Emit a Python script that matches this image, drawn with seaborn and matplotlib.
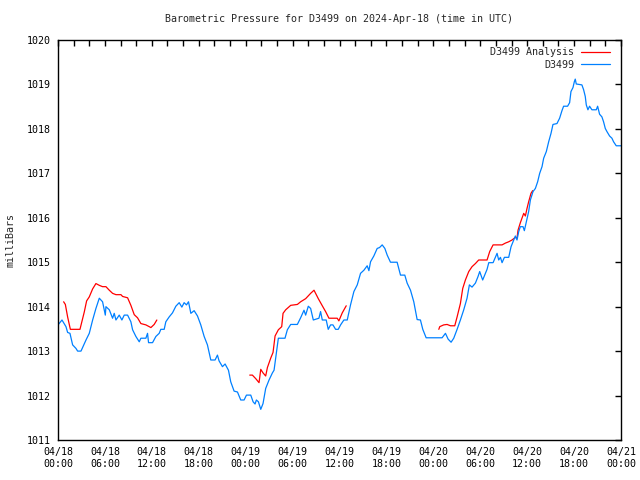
import numpy as np
import pandas as pd
import matplotlib
matplotlib.use("Agg")
import matplotlib.pyplot as plt
import matplotlib.dates as mdates
from matplotlib.lines import Line2D
import seaborn as sns

# blue observed series: hours since 2024-04-18 00:00 UTC, pressure (mb)
obs_hours = [
    0.0, 0.51, 1.02, 1.23, 1.53, 1.87, 2.30, 2.51, 2.94, 3.58, 4.00, 4.43, 4.85,
    5.28, 5.70, 6.05, 6.13, 6.56, 6.98, 7.19, 7.41, 7.83, 8.17, 8.47, 8.90, 9.32,
    9.54, 9.96, 10.39, 10.60, 11.24, 11.45, 11.58, 12.09, 12.52, 12.94, 13.15,
    13.58, 13.79, 14.22, 14.64, 15.07, 15.50, 15.84, 16.13, 16.43, 16.69, 16.99,
    17.41, 17.84, 18.26, 18.69, 19.11, 19.54, 20.09, 20.39, 20.60, 21.03, 21.37,
    21.80, 22.09, 22.52, 22.95, 23.37, 23.80, 24.10, 24.65, 24.95, 25.20, 25.37,
    25.63, 25.93, 26.22, 26.56, 26.99, 27.42, 27.63, 27.84, 28.18, 28.48, 29.03,
    29.33, 29.76, 30.61, 31.03, 31.46, 31.67, 32.01, 32.31, 32.65, 33.37, 33.58,
    33.80, 34.30, 34.56, 34.86, 35.16, 35.50, 35.84, 36.14, 36.56, 36.99, 37.41,
    37.84, 38.27, 38.69, 39.12, 39.54, 39.76, 39.97, 40.39, 40.82, 41.12, 41.46,
    41.80, 42.10, 42.52, 43.37, 43.80, 44.35, 44.65, 45.08, 45.50, 45.93, 46.35,
    46.65, 47.08, 49.12, 49.55, 49.89, 50.27, 50.61, 51.04, 51.46, 51.89, 52.31,
    52.61, 52.95, 53.38, 53.72, 53.93, 54.31, 54.66, 54.87, 55.09, 55.64, 55.94,
    56.15, 56.36, 56.58, 56.79, 57.09, 57.64, 57.94, 58.19, 58.49, 58.70, 58.92,
    59.13, 59.47, 59.64, 59.90, 60.19, 60.41, 60.75, 61.05, 61.34, 61.60, 61.90,
    62.11, 62.45, 62.75, 63.05, 63.30, 63.81, 64.15, 64.45, 64.66, 65.17, 65.43,
    65.60, 65.86, 66.03, 66.15, 66.28, 67.00, 67.22, 67.43, 67.56, 67.77, 67.98,
    68.28, 68.84, 69.01, 69.26, 69.56, 69.77, 69.99, 70.20, 70.54, 70.84, 71.05,
    71.39, 72.0,
]
obs_mb = [
    1013.59, 1013.70, 1013.55, 1013.42, 1013.40, 1013.14, 1013.06, 1013.00,
    1013.00, 1013.25, 1013.40, 1013.70, 1013.96, 1014.19, 1014.11, 1013.81,
    1014.00, 1013.93, 1013.74, 1013.85, 1013.70, 1013.81, 1013.70, 1013.81,
    1013.81, 1013.66, 1013.48, 1013.33, 1013.21, 1013.29, 1013.29, 1013.40,
    1013.19, 1013.19, 1013.33, 1013.40, 1013.49, 1013.49, 1013.66, 1013.77,
    1013.86, 1014.01, 1014.09, 1013.99, 1014.09, 1014.04, 1014.11, 1013.85,
    1013.91, 1013.79, 1013.59, 1013.33, 1013.14, 1012.80, 1012.80, 1012.91,
    1012.78, 1012.65, 1012.71, 1012.57, 1012.31, 1012.10, 1012.08, 1011.90,
    1011.90, 1012.01, 1012.01, 1011.86, 1011.81, 1011.90, 1011.86, 1011.69,
    1011.82, 1012.16, 1012.35, 1012.51, 1012.57, 1012.84, 1013.29, 1013.29,
    1013.29, 1013.48, 1013.60, 1013.60, 1013.75, 1013.92, 1013.81, 1014.01,
    1013.96, 1013.70, 1013.74, 1013.89, 1013.70, 1013.70, 1013.49, 1013.59,
    1013.59, 1013.49, 1013.49, 1013.59, 1013.70, 1013.70, 1014.04, 1014.34,
    1014.49, 1014.75, 1014.82, 1014.92, 1014.81, 1015.01, 1015.14, 1015.31,
    1015.33, 1015.39, 1015.31, 1015.16, 1015.00, 1015.00, 1014.71, 1014.71,
    1014.53, 1014.37, 1014.11, 1013.71, 1013.70, 1013.49, 1013.30, 1013.30,
    1013.40, 1013.27, 1013.20, 1013.29, 1013.49, 1013.70, 1013.93, 1014.19,
    1014.49, 1014.44, 1014.53, 1014.68, 1014.79, 1014.60, 1014.75, 1014.84,
    1014.99, 1014.99, 1015.11, 1015.20, 1015.05, 1015.11, 1014.99, 1015.11,
    1015.11, 1015.35, 1015.46, 1015.59, 1015.50, 1015.69, 1015.80, 1015.80,
    1015.71, 1015.91, 1016.14, 1016.40, 1016.59, 1016.66, 1016.81, 1017.00,
    1017.15, 1017.34, 1017.49, 1017.71, 1017.90, 1018.10, 1018.12, 1018.24,
    1018.41, 1018.51, 1018.51, 1018.59, 1018.84, 1018.93, 1019.06, 1019.12,
    1019.01, 1018.99, 1018.88, 1018.73, 1018.54, 1018.43, 1018.51, 1018.43,
    1018.43, 1018.51, 1018.33, 1018.27, 1018.16, 1018.01, 1017.94, 1017.84,
    1017.79, 1017.71, 1017.62, 1017.62,
]

# red analysis series, three separate runs
ana_seg = [1] * 27 + [2] * 29 + [3] * 31
ana_hours = [
    0.72, 0.94, 1.23, 1.58, 2.81, 3.36, 3.66, 4.00, 4.43, 4.85, 5.28, 5.70, 6.13,
    6.56, 6.98, 7.41, 8.05, 8.26, 8.90, 9.32, 9.75, 10.17, 10.60, 11.24, 11.88,
    12.30, 12.64,
    24.52, 24.86, 25.29, 25.71, 25.93, 26.22, 26.56, 26.78, 27.20, 27.50, 27.76,
    28.18, 28.61, 28.78, 29.12, 29.76, 30.61, 31.03, 31.67, 32.31, 32.74, 33.29,
    33.80, 34.22, 34.65, 35.71, 35.92, 36.35, 36.86,
    48.70, 48.82, 49.33, 49.76, 50.19, 50.74, 51.04, 51.46, 51.76, 52.10, 52.53,
    52.95, 53.38, 53.80, 54.87, 55.21, 55.64, 56.79, 57.21, 57.64, 58.06, 58.49,
    58.70, 58.83, 59.13, 59.56, 59.77, 59.98, 60.19, 60.49, 60.70,
]
ana_mb = [
    1014.11, 1014.05, 1013.77, 1013.49, 1013.49, 1013.88, 1014.13, 1014.22,
    1014.40, 1014.52, 1014.48, 1014.45, 1014.45, 1014.37, 1014.30, 1014.27,
    1014.27, 1014.23, 1014.20, 1014.03, 1013.82, 1013.75, 1013.62, 1013.59,
    1013.53, 1013.60, 1013.70,
    1012.46, 1012.46, 1012.38, 1012.29, 1012.59, 1012.51, 1012.44, 1012.63,
    1012.84, 1012.97, 1013.34, 1013.48, 1013.55, 1013.85, 1013.93, 1014.03,
    1014.05, 1014.11, 1014.18, 1014.30, 1014.37, 1014.18, 1014.02, 1013.89,
    1013.74, 1013.74, 1013.68, 1013.86, 1014.02,
    1013.49, 1013.55, 1013.59, 1013.60, 1013.57, 1013.57, 1013.77, 1014.07,
    1014.41, 1014.60, 1014.79, 1014.90, 1014.97, 1015.05, 1015.05, 1015.24,
    1015.39, 1015.39, 1015.43, 1015.46, 1015.50, 1015.56, 1015.54, 1015.72,
    1015.89, 1016.10, 1016.04, 1016.21, 1016.36, 1016.55, 1016.61,
]

RED, BLUE = "#ff0000", "#0080ff"

start = pd.Timestamp("2024-04-18 00:00")
obs = pd.DataFrame({"time": start + pd.to_timedelta(obs_hours, unit="h"),
                    "mb": obs_mb})
ana = pd.DataFrame({"time": start + pd.to_timedelta(ana_hours, unit="h"),
                    "mb": ana_mb, "seg": ana_seg})

sns.set_style("white")
plt.rcParams["font.family"] = ["DejaVu Sans Mono"]
FS = 7.2

fig = plt.figure(figsize=(6.4, 4.8), dpi=100)
ax = fig.add_axes([58 / 640, 40 / 480, (621 - 58) / 640, 400 / 480])

sns.lineplot(data=ana, x="time", y="mb", units="seg", estimator=None,
             color=RED, lw=0.9, ax=ax, legend=False)
sns.lineplot(data=obs, x="time", y="mb", color=BLUE, lw=0.9, ax=ax,
             legend=False)

ax.set_xlim(start, start + pd.Timedelta(hours=72))
ax.set_ylim(1011, 1020)
ax.set_yticks(range(1011, 1021))
ax.xaxis.set_major_locator(mdates.HourLocator(byhour=[0, 6, 12, 18]))
ax.xaxis.set_minor_locator(mdates.HourLocator(byhour=range(0, 24, 2)))
ax.xaxis.set_major_formatter(mdates.DateFormatter("%m/%d\n%H:%M"))
ax.tick_params(which="both", direction="in", length=4, width=1,
               top=True, right=True, colors="black", labelsize=FS, pad=5)
for s in ax.spines.values():
    s.set_color("black")
    s.set_linewidth(1)

ax.set_xlabel("")
ax.set_ylabel("milliBars", fontsize=FS, labelpad=8)
fig.suptitle("Barometric Pressure for D3499 on 2024-Apr-18 (time in UTC)",
             x=339 / 640, y=1 - 19 / 480, va="center", fontsize=FS)

handles = [Line2D([], [], color=RED, lw=0.9), Line2D([], [], color=BLUE, lw=0.9)]
ax.legend(handles, ["D3499 Analysis", "D3499"], loc="upper right",
          bbox_to_anchor=(1 - 6 / 563, 0.995),
          frameon=False, markerfirst=False, fontsize=FS,
          handlelength=2.9, borderaxespad=0.25, borderpad=0.3,
          labelspacing=0.25, handletextpad=0.6)

fig.savefig("out.png", dpi=100)
